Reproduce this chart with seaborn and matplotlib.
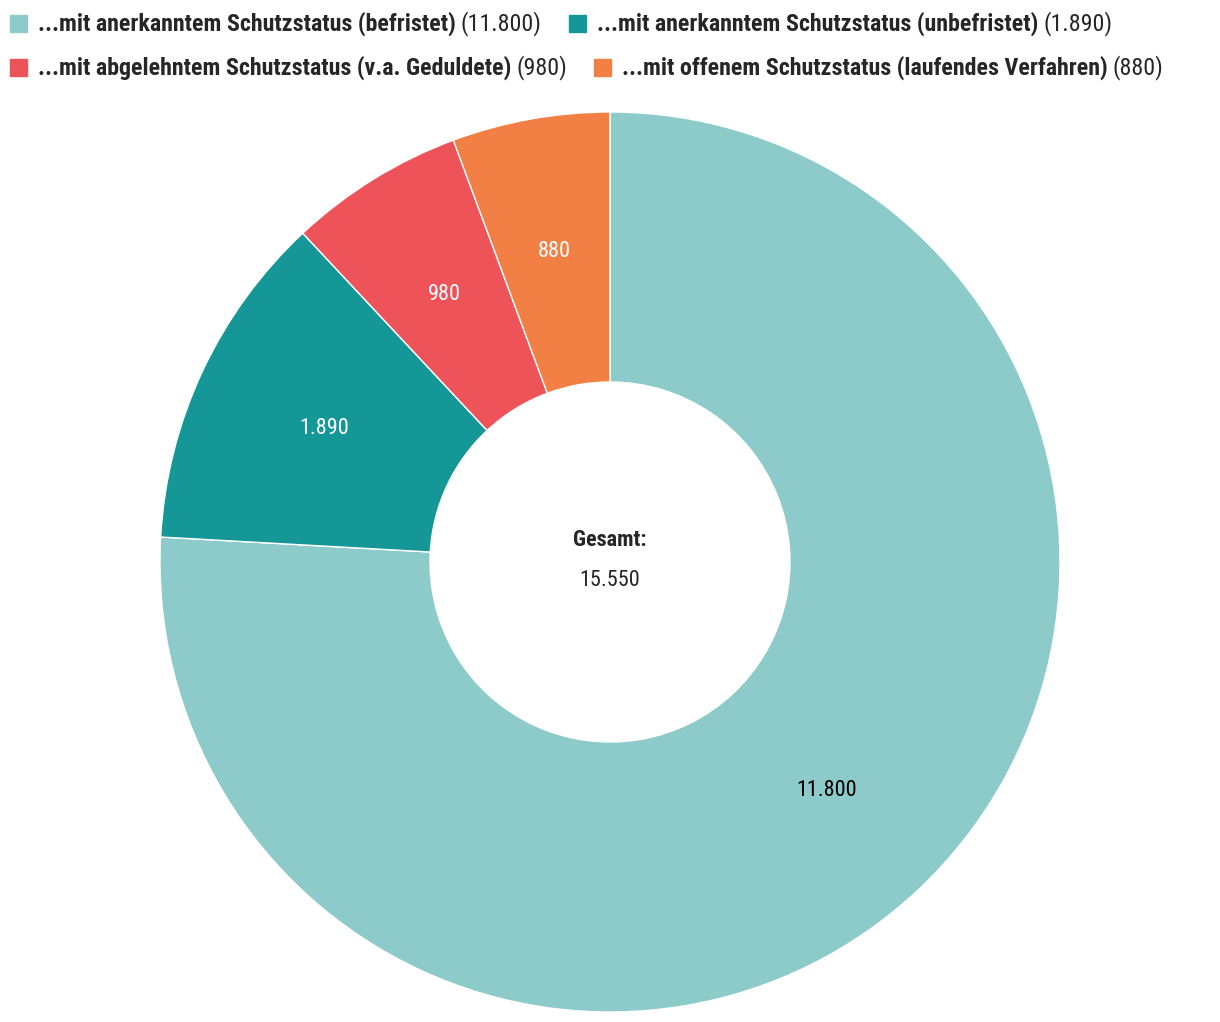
import numpy as np
import pandas as pd
import matplotlib
matplotlib.use("Agg")
import matplotlib.pyplot as plt
from matplotlib import font_manager
from matplotlib.patches import Rectangle
import seaborn as sns

labels = ["...mit anerkanntem Schutzstatus (befristet)",
          "...mit anerkanntem Schutzstatus (unbefristet)",
          "...mit abgelehntem Schutzstatus (v.a. Geduldete)",
          "...mit offenem Schutzstatus (laufendes Verfahren)"]
values = [11800, 1890, 980, 880]
value_text = ["11.800", "1.890", "980", "880"]
total_text = "15.550"
colors = ["#8ccbca", "#159797", "#ef535a", "#f28044"]
label_colors = ["black", "white", "white", "white"]

sns.set_theme(style="white")
installed = {f.name for f in font_manager.fontManager.ttflist}
fam = next((f for f in ["Roboto Condensed", "Liberation Sans Narrow", "Roboto", "DejaVu Sans"] if f in installed))
plt.rcParams["font.family"] = [fam, "DejaVu Sans"]

W, H = 1220, 1022
fig = plt.figure(figsize=(W / 100, H / 100), dpi=100)
ax = fig.add_axes([(610 - 450) / W, (460 - 450) / H, 900 / W, 900 / H])

df = pd.DataFrame({"label": labels, "value": values, "text": value_text})
wedges, _ = ax.pie(df["value"], colors=colors, startangle=90, counterclock=False,
                   radius=1, wedgeprops=dict(width=0.6, edgecolor="white", linewidth=1))
# value labels in the middle of the ring
theta = 90 - np.cumsum([0] + values[:-1]) / sum(values) * 360 - np.array(values) / sum(values) * 180
for t, txt, c in zip(theta, df["text"], label_colors):
    r = 0.70
    ax.text(r * np.cos(np.radians(t)), r * np.sin(np.radians(t)), txt, ha="center", va="center",
            fontsize=16, color=c)
ax.text(0, 0.049, "Gesamt:", ha="center", va="center", fontsize=16, fontweight="bold")
ax.text(0, -0.042, total_text, ha="center", va="center", fontsize=16)
ax.set_xlim(-1, 1)
ax.set_ylim(-1, 1)
ax.set_aspect("equal")
ax.axis("off")

# flow legend at the top
renderer = fig.canvas.get_renderer()
rows = [[0, 1], [2, 3]]
row_y = [24, 68]
for row, y in zip(rows, row_y):
    x = 10
    for i in row:
        fig.patches.append(Rectangle((x / W, 1 - (y + 8) / H), 17 / W, 17 / H,
                                     transform=fig.transFigure, color=colors[i]))
        x += 28
        t1 = fig.text(x / W, 1 - y / H, labels[i], fontsize=17.3, fontweight="bold",
                      ha="left", va="center")
        w1 = t1.get_window_extent(renderer).width
        x += w1 + 5
        t2 = fig.text(x / W, 1 - y / H, "(" + value_text[i] + ")", fontsize=17.3,
                      ha="left", va="center")
        x += t2.get_window_extent(renderer).width + 27

fig.savefig("out.png", dpi=100, facecolor="white")
